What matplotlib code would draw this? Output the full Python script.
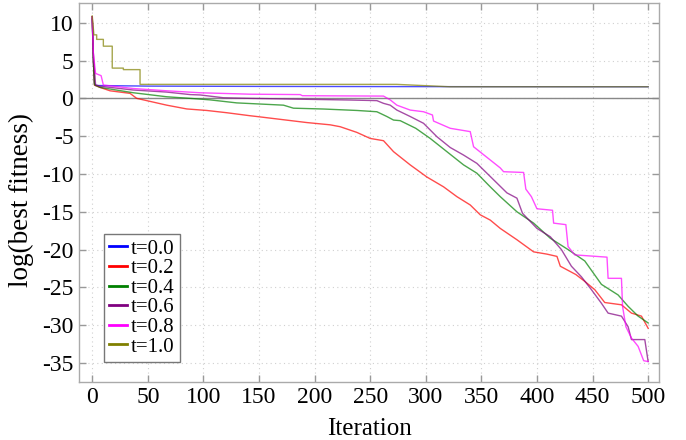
import matplotlib
matplotlib.use("Agg")
import matplotlib.pyplot as plt

plt.rcParams['font.family'] = ['Liberation Serif', 'DejaVu Serif']
plt.rcParams['axes.unicode_minus'] = False

labels = ["t=0.0", "t=0.2", "t=0.4", "t=0.6", "t=0.8", "t=1.0"]
colors = ["#0000ff", "#ff0000", "#008000", "#800080", "#ff00ff", "#808000"]

x_t00 = [0, 1, 2, 3, 50, 150, 300, 500]
y_t00 = [10.5, 5.0, 2.0, 1.7, 1.62, 1.58, 1.55, 1.53]

x_t02 = [0, 1, 2, 6, 16, 34, 40, 67, 85, 103, 121, 142, 148, 193, 214, 223, 238, 250,
         262, 271, 286, 301, 316, 328, 340, 349, 358, 367, 382, 397, 409, 418, 421, 435,
         443, 452, 461, 476, 485, 494, 500]
y_t02 = [10.8, 5.0, 1.75, 1.5, 1.0, 0.66, 0.0, -0.9, -1.4, -1.6, -1.9, -2.3, -2.4, -3.2,
         -3.5, -3.75, -4.5, -5.3, -5.6, -7.05, -8.8, -10.4, -11.7, -13.0, -14.1, -15.4,
         -16.1, -17.2, -18.7, -20.3, -20.6, -20.9, -22.2, -23.3, -24.2, -25.3, -27.0,
         -27.3, -28.4, -28.8, -30.4]

x_t04 = [0, 1, 2, 7, 37, 67, 88, 106, 130, 172, 181, 208, 238, 256, 265, 271, 277, 291,
         304, 319, 334, 346, 358, 367, 382, 397, 412, 428, 443, 458, 473, 482, 491, 500]
y_t04 = [10.8, 5.0, 1.8, 1.45, 0.74, 0.21, 0.0, -0.2, -0.6, -0.9, -1.3, -1.41, -1.6,
         -1.77, -2.4, -2.87, -2.95, -3.96, -5.3, -7.05, -8.8, -9.9, -11.7, -13.0, -15.0,
         -16.5, -18.5, -20.0, -21.5, -24.6, -26.0, -27.5, -28.8, -29.7]

x_t06 = [0, 1, 3, 7, 37, 67, 88, 97, 118, 142, 178, 232, 256, 262, 268, 274, 286, 298,
         310, 322, 334, 346, 355, 364, 373, 382, 387, 400, 412, 422, 431, 440, 449, 458,
         464, 476, 482, 485, 497, 500]
y_t06 = [10.8, 6.0, 1.8, 1.6, 1.1, 0.83, 0.5, 0.45, 0.08, 0.0, -0.09, -0.22, -0.3, -0.66,
         -0.9, -1.55, -2.4, -3.3, -5.07, -6.5, -7.5, -8.6, -9.9, -11.2, -12.5, -13.2,
         -15.2, -17.2, -18.3, -20.0, -22.2, -23.6, -25.3, -27.1, -28.4, -28.8, -30.2,
         -31.9, -31.9, -34.8]

x_t08 = [0, 1, 3, 8, 10, 37, 67, 97, 142, 187, 189, 262, 268, 274, 286, 298, 306, 307,
         322, 340, 343, 355, 367, 370, 388, 390, 395, 400, 414, 415, 426, 428, 434, 463,
         464, 476, 477, 480, 485, 491, 496, 500]
y_t08 = [10.8, 6.0, 3.3, 3.0, 1.76, 1.3, 1.0, 0.74, 0.55, 0.5, 0.35, 0.3, -0.2, -0.9,
         -1.55, -1.77, -2.2, -3.0, -3.96, -4.4, -6.4, -7.8, -9.2, -9.7, -9.8, -12.0,
         -13.0, -14.6, -14.8, -16.5, -16.7, -19.6, -20.7, -21.0, -23.8, -23.8, -27.5,
         -30.2, -31.7, -32.8, -34.7, -34.8]

x_t10 = [0, 1.5, 4, 4, 10, 10, 18, 18, 28, 28, 43, 43, 274, 322, 500]
y_t10 = [10.9, 8.4, 8.4, 7.8, 7.8, 6.9, 6.9, 4.0, 4.0, 3.8, 3.8, 1.85, 1.85, 1.53, 1.53]

series = [(x_t00, y_t00), (x_t02, y_t02), (x_t04, y_t04),
          (x_t06, y_t06), (x_t08, y_t08), (x_t10, y_t10)]

x_ticks = [0, 50, 100, 150, 200, 250, 300, 350, 400, 450, 500]
y_ticks = [-35, -30, -25, -20, -15, -10, -5, 0, 5, 10]

fig = plt.figure(figsize=(6.86, 4.4), dpi=100)
ax = fig.add_axes([0.115, 0.132, 0.846, 0.861])

ax.axhline(0, color="#888888", lw=1.0, zorder=1)
for (xs, ys), lab, c in zip(series, labels, colors):
    ax.plot(xs, ys, color=c, lw=1.0, alpha=0.7, label=lab, zorder=2)

ax.set_xlim(-12, 510)
ax.set_ylim(-37.5, 12.6)
ax.set_xticks(x_ticks)
ax.set_yticks(y_ticks)
ax.grid(True, linestyle=(0, (1, 3)), color="#d0d0d0", lw=0.8)
ax.set_axisbelow(True)
for s in ax.spines.values():
    s.set_color("#aaaaaa")
    s.set_linewidth(1.0)
ax.tick_params(direction="in", length=5, width=1, color="#999999",
               top=True, right=True, labelsize=17, pad=4)
ax.set_xlabel("Iteration", fontsize=18, labelpad=7)
ax.set_ylabel("log(best fitness)", fontsize=19.5)
ax.yaxis.set_label_coords(-0.077, 0.48)

leg = ax.legend(loc="lower left", bbox_to_anchor=(0.043, 0.053), borderaxespad=0,
                fontsize=15, handlelength=0.85, handletextpad=0.2, labelspacing=0.0,
                borderpad=0.25, fancybox=False, framealpha=1)
leg.get_frame().set_edgecolor("#777777")
leg.get_frame().set_linewidth(1.0)
for l in leg.get_lines():
    l.set_linewidth(2)
    l.set_alpha(1)

fig.savefig("out.png", dpi=100)
